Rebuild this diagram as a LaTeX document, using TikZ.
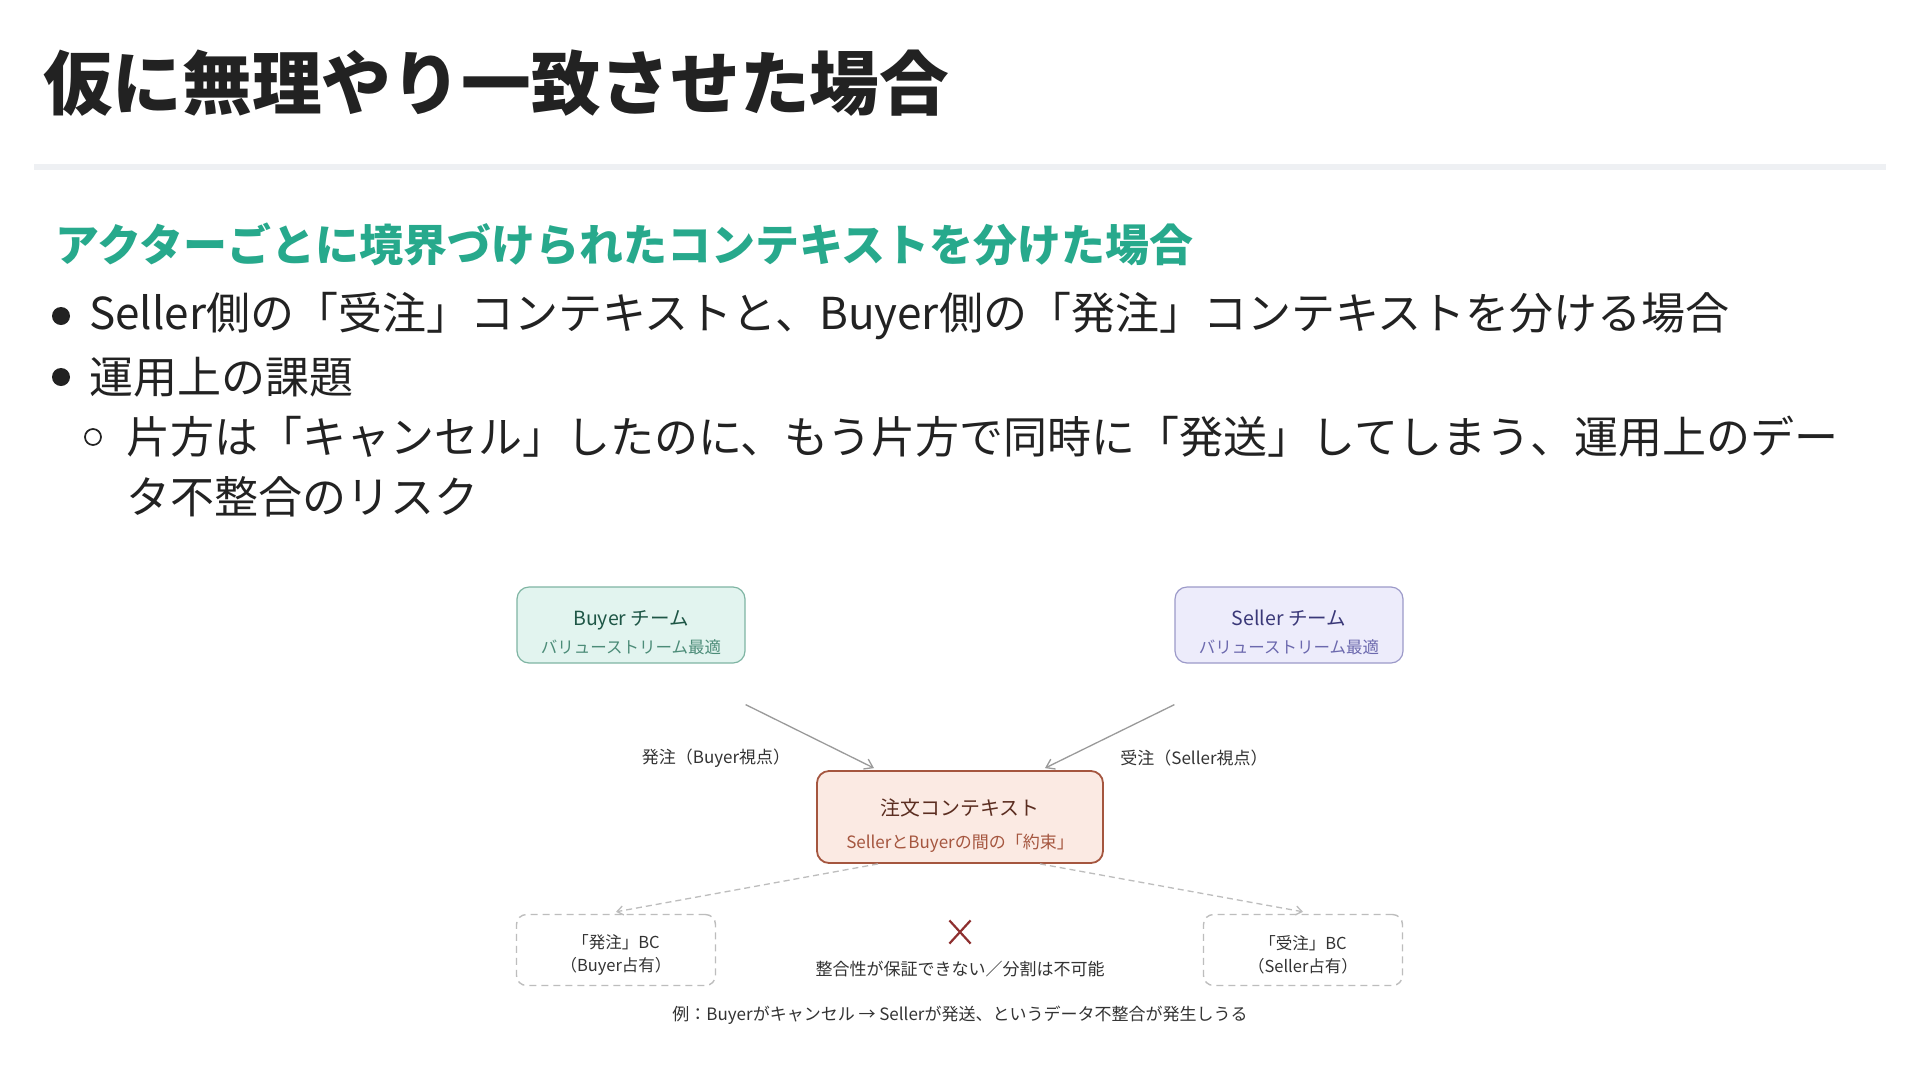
\documentclass[tikz,border=0pt]{standalone}
\usepackage{fontspec}
\setmainfont{Noto Sans CJK JP}
\usetikzlibrary{arrows.meta, positioning, shapes.misc}

\definecolor{inkgray}{HTML}{222222}
\definecolor{rulegray}{HTML}{EEF0F3}
\definecolor{accent}{HTML}{27A98C}
\definecolor{buyerfill}{HTML}{E2F4EF}
\definecolor{buyerdraw}{HTML}{7FB5A3}
\definecolor{buyertext}{HTML}{1E5646}
\definecolor{buyersub}{HTML}{4C8C78}
\definecolor{sellerfill}{HTML}{EDECFB}
\definecolor{sellerdraw}{HTML}{9C9AC9}
\definecolor{sellertext}{HTML}{3A3878}
\definecolor{sellersub}{HTML}{6C69AE}
\definecolor{orderfill}{HTML}{FBEAE3}
\definecolor{orderdraw}{HTML}{A5563F}
\definecolor{ordertext}{HTML}{5B2D20}
\definecolor{linkgray}{HTML}{9A9A9A}
\definecolor{dashgray}{HTML}{BDBDBD}
\definecolor{crossred}{HTML}{8E2F2F}
\definecolor{notegray}{HTML}{333333}

\begin{document}
\begin{tikzpicture}[
    x=1pt, y=-1pt,
    every node/.style={inner sep=0pt, text=inkgray},
    heading/.style={anchor=west, font=\fontsize{69.7}{80}\selectfont\bfseries},
    subhead/.style={anchor=west, text=accent, font=\fontsize{44}{52}\selectfont\bfseries},
    bodyline/.style={anchor=west, font=\fontsize{44}{52}\selectfont},
    bulletdot/.style={circle, fill=inkgray, minimum size=18},
    bulletring/.style={circle, draw=inkgray, line width=1.7, minimum size=16},
    team/.style={rectangle, draw, line width=1.2, rounded corners=12, minimum width=228, minimum height=76, align=center,
        font=\fontsize{19.5}{28}\selectfont},
    order/.style={rectangle, draw=orderdraw, fill=orderfill, line width=1.8, rounded corners=12, minimum width=286, minimum height=92, align=center,
        text=ordertext, font=\fontsize{19.9}{33}\selectfont},
    bc/.style={rectangle, draw=dashgray, fill=white, line width=1.4, dash pattern=on 7pt off 5pt, rounded corners=10, minimum width=199, minimum height=71, align=center,
        text=notegray, font=\fontsize{16.5}{23}\selectfont},
    note/.style={text=notegray, font=\fontsize{17}{20}\selectfont},
    link/.style={draw=linkgray, line width=1.3, -{Straight Barb[length=8pt, width=11pt]}},
    weaklink/.style={draw=dashgray, line width=1.3, dash pattern=on 6pt off 4pt, -{Straight Barb[length=6pt, width=9pt]}}
]
\useasboundingbox[fill=white] (0,0) rectangle (1920,1080);

% Title and rule
\node[heading] (title) at (43,83) {仮に無理やり一致させた場合};
\draw[rulegray, line width=6] (34,167) -- (1886,167);

% Text block
\node[subhead] (sub) at (55,244) {アクターごとに境界づけられたコンテキストを分けた場合};
\node[bulletdot] (b1) at (61,316) {};
\node[bodyline] (l1) at (89,316) {Seller側の「受注」コンテキストと、Buyer側の「発注」コンテキストを分ける場合};
\node[bulletdot] (b2) at (61,377) {};
\node[bodyline] (l2) at (89,377) {運用上の課題};
\node[bulletring] (b3) at (93,437) {};
\node[bodyline] (l3) at (126,437) {片方は「キャンセル」したのに、もう片方で同時に「発送」してしまう、運用上のデー};
\node[bodyline] (l4) at (126,497) {タ不整合のリスク};

% Teams
\node[team, draw=buyerdraw, fill=buyerfill, text=buyertext] (buyer) at (631,625)
    {\rule{0pt}{30pt}Buyer チーム\\{\fontsize{16.5}{28}\selectfont\color{buyersub}バリューストリーム最適}};
\node[team, draw=sellerdraw, fill=sellerfill, text=sellertext] (seller) at (1289,625)
    {\rule{0pt}{30pt}Seller チーム\\{\fontsize{16.5}{28}\selectfont\color{sellersub}バリューストリーム最適}};

% Shared context
\node[order] (ctx) at (960,817)
    {\rule{0pt}{34pt}注文コンテキスト\\{\fontsize{17}{33}\selectfont\color{orderdraw}SellerとBuyerの間の「約束」}};

\coordinate (bstart) at ([yshift=-41pt]buyer.south east);
\coordinate (sstart) at ([yshift=-41pt]seller.south west);
\coordinate (bend) at ([xshift=-86pt, yshift=2pt]ctx.north);
\coordinate (send) at ([xshift=85pt, yshift=2pt]ctx.north);
\draw[link] (bstart) -- (bend);
\draw[link] (sstart) -- (send);

\node[note] (blabel) at (716,758) {発注（Buyer視点）};
\node[note] (slabel) at (1194,758) {受注（Seller視点）};

% Split contexts
\node[bc] (lbc) at (616,950) {\rule{0pt}{24pt}「発注」BC\\（Buyer占有）};
\node[bc] (rbc) at (1303,950) {\rule{0pt}{24pt}「受注」BC\\（Seller占有）};

\draw[weaklink] ([xshift=-82pt]ctx.south) -- ([yshift=2pt]lbc.north);
\draw[weaklink] ([xshift=80pt]ctx.south) -- ([yshift=2pt]rbc.north);

\node[cross out, draw=crossred, line width=2.2, minimum width=19, minimum height=21] (nogo) at (960,932) {};
\node[note] (verdict) at (960,969) {整合性が保証できない／分割は不可能};
\node[note] (example) at (960,1015) {例：Buyerがキャンセル → Sellerが発送、というデータ不整合が発生しうる};

\end{tikzpicture}
\end{document}
